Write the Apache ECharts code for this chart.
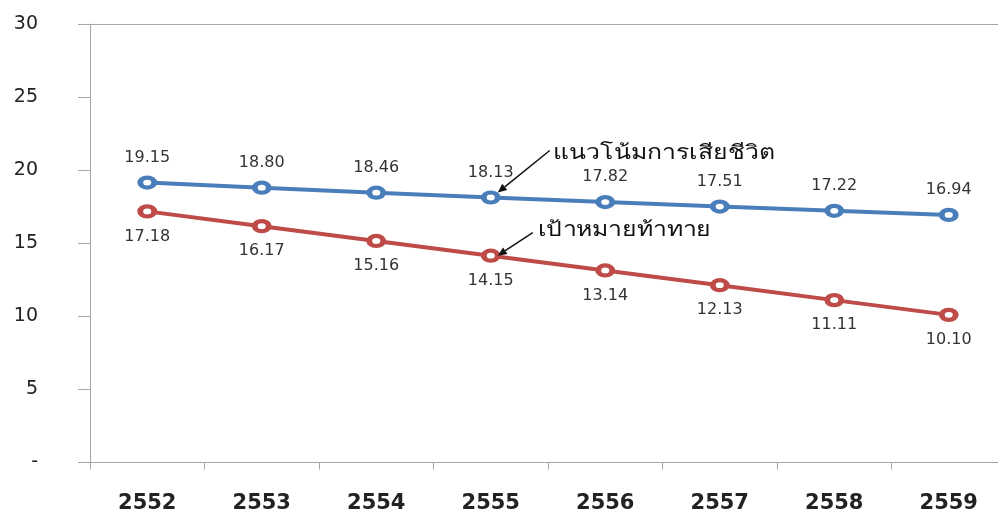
<!DOCTYPE html>
<html>
<head>
<meta charset="utf-8">
<script src="https://cdn.jsdelivr.net/npm/echarts@6/dist/echarts.min.js"></script>
<style>html,body{margin:0;padding:0;background:#fff}#c{width:998px;height:515px}</style>
</head>
<body>
<div id="c"></div>
<script>
const years = ['2552','2553','2554','2555','2556','2557','2558','2559'];
const trend = [19.15,18.80,18.46,18.13,17.82,17.51,17.22,16.94];
const target = [17.18,16.17,15.16,14.15,13.14,12.13,11.11,10.10];
const yMin = 0, yMax = 30, yStep = 5;
const trendName = 'แนวโน้มการเสียชีวิต';
const targetName = 'เป้าหมายท้าทาย';

const axisGray = '#a6a6a6';
const blue = '#4a7ebb';
const red = '#be4b48';

const chart = echarts.init(document.getElementById('c'), null, {renderer:'canvas'});

function labelCfg(pos){
  return {show:true, position:pos, distance:10, fontSize:16, fontFamily:'DejaVu Sans', color:'#333',
    formatter: p => p.value.toFixed(2)};
}

chart.setOption({
  animation:false,
  backgroundColor:'#fff',
  grid:{left:90, top:24, width:916, height:438.5, containLabel:false, outerBoundsMode:'none'},
  xAxis:[{
    type:'category', data:years, boundaryGap:true,
    axisLine:{show:true, lineStyle:{color:axisGray, width:1}},
    axisTick:{show:true, length:7, alignWithLabel:false, lineStyle:{color:axisGray}},
    axisLabel:{margin:31, fontSize:21, fontWeight:'bold', fontFamily:'DejaVu Sans', color:'#222'},
    splitLine:{show:false}
  },{
    type:'category', data:years, position:'top',
    axisLine:{show:true, lineStyle:{color:axisGray, width:1}},
    axisTick:{show:false}, axisLabel:{show:false}, splitLine:{show:false}
  }],
  yAxis:{
    type:'value', min:yMin, max:yMax, interval:yStep,
    axisLine:{show:true, lineStyle:{color:axisGray, width:1}},
    axisTick:{show:true, length:12, lineStyle:{color:axisGray}},
    axisLabel:{margin:52, fontSize:19, fontFamily:'DejaVu Sans', color:'#222',
      formatter: v => v === 0 ? '-' : String(v)},
    splitLine:{show:false}
  },
  series:[{
    name:trendName, type:'line', data:trend,
    symbol:'circle', symbolSize:[14,10], showAllSymbol:true,
    lineStyle:{color:blue, width:4},
    itemStyle:{color:'#fff', borderColor:blue, borderWidth:5},
    label:labelCfg('top'), z:3
  },{
    name:targetName, type:'line', data:target,
    symbol:'circle', symbolSize:[14,10], showAllSymbol:true,
    lineStyle:{color:red, width:4},
    itemStyle:{color:'#fff', borderColor:red, borderWidth:5},
    label:labelCfg('bottom'), z:3
  }]
});

function arrowGraphics(p, tipOff, startOff, textOff, text){
  const tip = [p[0]+tipOff[0], p[1]+tipOff[1]];
  const st = [p[0]+startOff[0], p[1]+startOff[1]];
  const dx = tip[0]-st[0], dy = tip[1]-st[1];
  const L = Math.hypot(dx,dy), ux = dx/L, uy = dy/L;
  const hl = 9, hw = 4;
  const bx = tip[0]-ux*hl, by = tip[1]-uy*hl;
  return [
    {type:'line', shape:{x1:st[0], y1:st[1], x2:bx, y2:by}, style:{stroke:'#111', lineWidth:1.5}, z:10},
    {type:'polygon', shape:{points:[tip,[bx-uy*hw, by+ux*hw],[bx+uy*hw, by-ux*hw]]}, style:{fill:'#111'}, z:10},
    {type:'text', x:p[0]+textOff[0], y:p[1]+textOff[1], scaleX:1.24,
      style:{text:text, fill:'#111', font:'20px sans-serif', textVerticalAlign:'middle', textAlign:'left'}, z:10}
  ];
}
const pT = chart.convertToPixel({seriesIndex:0}, [3, trend[3]]);
const pR = chart.convertToPixel({seriesIndex:1}, [3, target[3]]);
chart.setOption({graphic:[
  ...arrowGraphics(pT, [7,-5], [59,-47], [62,-44], trendName),
  ...arrowGraphics(pR, [7,0], [42,-23], [47,-25], targetName)
]});
</script>
</body>
</html>
